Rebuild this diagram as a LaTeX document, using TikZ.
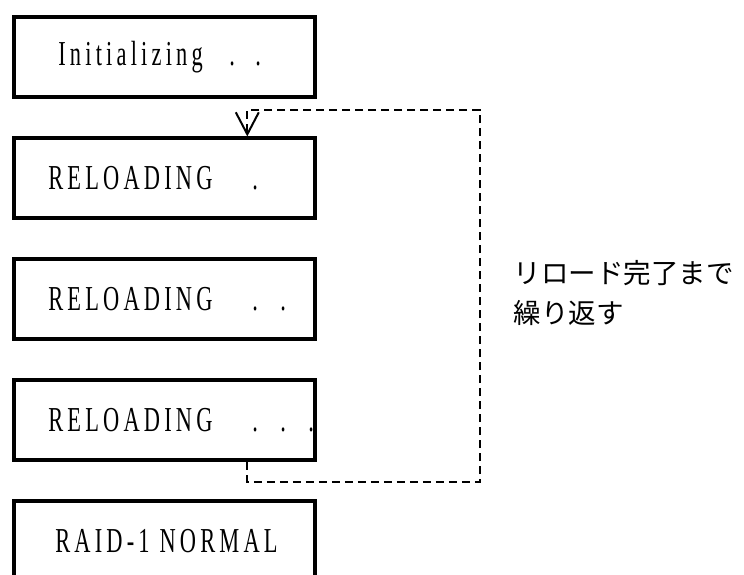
\documentclass[tikz,border=0pt]{standalone}
\usepackage{fontspec}
\usetikzlibrary{positioning, arrows.meta}
\newfontfamily\lcdfont{Liberation Serif}[FakeStretch=0.64,LetterSpace=12]
\newfontfamily\jpfont{Noto Sans CJK JP}
\tikzset{every state/.style={draw,line width=4pt,minimum height=80pt,minimum width=301pt,
                             inner xsep=34pt,
                             font=\lcdfont\fontsize{35}{40}\selectfont},
         loopline/.style={line width=2pt,dash pattern=on 8pt off 5pt}}
% text starts 34pt in from the box edge, dots sit at fixed offsets from there
\newcommand{\lcdline}[2]{\makebox[233pt][l]{\rlap{#1}#2}}
\newcommand{\lcddot}[1]{\hspace{#1}\rlap{.}}

\begin{document}
\begin{tikzpicture}[x=1pt,y=1pt,node distance=37pt]
        \useasboundingbox (0,0) rectangle (744,575);
        \node[every state](init)at(164.8,517.5){\lcdline{\hspace{10pt}Initializing}{\lcddot{181pt}\lcddot{26pt}}};
        \node[every state, below=of init](rl1){\lcdline{RELOADING}{\lcddot{204pt}}};
        \node[every state, below=of rl1](rl2){\lcdline{RELOADING}{\lcddot{204pt}\lcddot{28pt}}};
        \node[every state, below=of rl2](rl3){\lcdline{RELOADING}{\lcddot{204pt}\lcddot{28pt}\lcddot{28pt}}};
        \node[every state, below=of rl3](normal){\lcdline{\hspace{7pt}RAID-1 NORMAL}{}};

        \coordinate(lpb)at(480,93);
        \coordinate(lpt)at(480,465);
        \draw[loopline,-{Straight Barb[length=22pt,width=23pt]}]
            ([xshift=82.5pt]rl3.south)|-(lpb)--(lpt)-|([xshift=82.5pt]rl1.north);

        \node[align=left, anchor=west, font=\jpfont\fontsize{27.5}{40}\selectfont](note)at(510,282)
            {リロード完了まで\\繰り返す};
\end{tikzpicture}
\end{document}
